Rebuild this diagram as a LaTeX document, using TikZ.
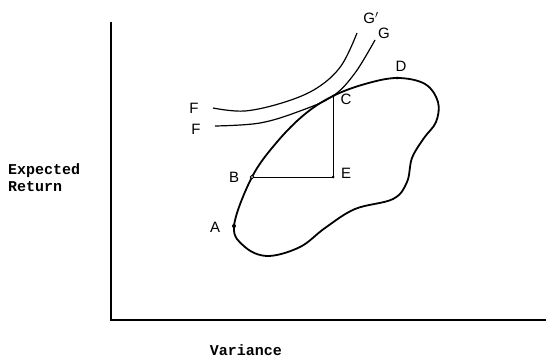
\documentclass[tikz,border=0pt]{standalone}
\usepackage{fontspec}
\setmainfont{Liberation Sans}
\newfontfamily\axisfont{Liberation Mono}
\begin{document}
\begin{tikzpicture}[x=1pt,y=-1pt,
  axisline/.style={line width=1.4pt},
  curveline/.style={line width=1.2pt},
  setline/.style={line width=1.8pt},
  thinline/.style={line width=0.9pt},
  axislabel/.style={font=\axisfont\bfseries\fontsize{15}{17}\selectfont, align=left, inner sep=0pt},
  ptlabel/.style={font=\fontsize{15}{17}\selectfont, inner sep=0pt}]
\useasboundingbox (0,0) rectangle (548,358);
% axes
\coordinate (ytop) at (111,22);
\coordinate (orig) at (111,320);
\coordinate (xend) at (546,320);
\draw[axisline] (ytop) -- (orig) -- (xend);
\node[axislabel, anchor=west] (ylab) at (8,178) {Expected\\Return};
\node[axislabel] (xlab) at (246,350) {Variance};
% points
\coordinate (A) at (234,226);
\coordinate (B) at (252,177);
\coordinate (C) at (333,96);
\coordinate (D) at (397,78);
\coordinate (E) at (333,177);
% opportunity set
\draw[setline] plot[smooth cycle, tension=0.6] coordinates {
 (A) (B) (277,142) (305,114) (C) (365,84) (D) (425,84) (438,102) (436,122)
 (424,138) (412,158) (407,182) (393,199) (355,209) (325,228) (300,247)
 (268,256) (245,247)};
% indifference curves
\draw[curveline] plot[smooth, tension=0.6] coordinates {(213,108) (245,111) (285,102) (317,88) (341,66) (357,33)};
\draw[curveline] plot[smooth, tension=0.6] coordinates {(215,126) (260,123) (300,111) (C) (355,73) (375,40)};
% lines
\draw[thinline] (B) -- (E) -- (C);
\fill (A) circle (2pt);
\fill (E) circle (1.5pt);
\fill (C) circle (1.5pt);
\draw[thinline, fill=white] (B) circle (1.8pt);
\fill (D) circle (1.5pt);
% labels
\node[ptlabel] (lA) at (215,227) {A};
\node[ptlabel] (lB) at (234,177) {B};
\node[ptlabel] (lC) at (346,99) {C};
\node[ptlabel] (lD) at (401,66) {D};
\node[ptlabel] (lE) at (346,173) {E};
\node[ptlabel] (lF1) at (194,108) {F};
\node[ptlabel] (lF2) at (196,129) {F};
\node[ptlabel] (lG) at (384,33) {G};
\node[ptlabel] (lGp) at (371,18) {G$'$};
\end{tikzpicture}
\end{document}
